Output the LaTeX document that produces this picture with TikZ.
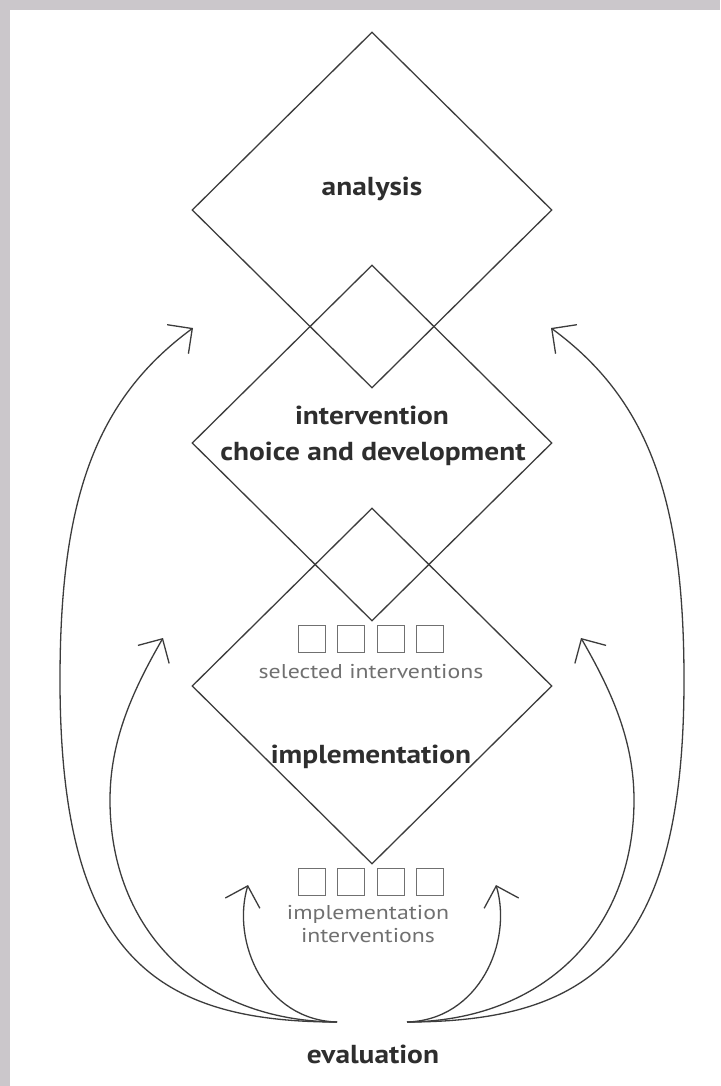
\documentclass[tikz,border=0pt]{standalone}
\usepackage{fontspec}
\setmainfont{PT Sans}
\newfontfamily\lblfont[FakeStretch=1.13]{PT Sans}
\newfontfamily\subfont[FakeStretch=1.19]{PT Sans}
\usetikzlibrary{shapes.geometric,arrows.meta}
\definecolor{linec}{HTML}{3C3C3C}
\definecolor{textc}{HTML}{2E2E2E}
\definecolor{grayc}{HTML}{707070}
\definecolor{borderc}{HTML}{CBC7CB}
\begin{document}
\begin{tikzpicture}[x=1pt,y=-1pt,
  dia/.style={diamond,draw=linec,line width=1.3pt,minimum width=360pt,minimum height=356pt,inner sep=0pt},
  lbl/.style={font=\lblfont\fontsize{26}{30}\selectfont\bfseries,text=textc,inner sep=0pt,anchor=base},
  sub/.style={font=\subfont\fontsize{20}{22}\selectfont,text=grayc,inner sep=0pt,anchor=base},
  sq/.style={draw=grayc,line width=1.8pt,minimum size=27pt,inner sep=0pt},
  arr/.style={draw=linec,line width=1.3pt,-{Straight Barb[length=18pt,width=36pt,line width=1.3pt]}}
]
\useasboundingbox (0,0) rectangle (720,1086);
\fill[white] (0,0) rectangle (720,1086);
\fill[borderc] (0,0) rectangle (10,1086);
\fill[borderc] (0,0) rectangle (720,10);
% diamonds
\node[dia] (analysis) at (372,210) {};
\node[dia] (choice) at (372,443) {};
\node[dia] (impl) at (372,686) {};
% labels
\node[lbl] (tA) at (372,195) {analysis};
\node[lbl] (tC1) at (372,424) {intervention};
\node[lbl] (tC2) at (373,460) {choice and development};
\node[lbl] (tI) at (371,763) {implementation};
\node[lbl] (tE) at (373,1063) {evaluation};
\node[sub] (tS) at (371,678) {selected interventions};
\node[sub] (tII1) at (368,919) {implementation};
\node[sub] (tII2) at (368,942) {interventions};
% squares
\foreach \i/\x in {1/312,2/351,3/391,4/430}{
  \node[sq] (s\i) at (\x,639) {};
  \node[sq] (b\i) at (\x,882) {};
}
% arrows
\coordinate (eL) at (337,1022);
\coordinate (eR) at (407,1022);
\coordinate (tipLo) at (193,328);
\coordinate (tipRo) at (551,328);
\coordinate (tipLm) at (163,638);
\coordinate (tipRm) at (581,638);
\coordinate (tipLi) at (248,885);
\coordinate (tipRi) at (496,885);
\draw[arr] (eL) .. controls (150,1022) and (60,950) .. (60,680) .. controls (60,500) and (95,400) .. (tipLo);
\draw[arr] (eR) .. controls (594,1022) and (684,950) .. (684,680) .. controls (684,500) and (649,400) .. (tipRo);
\draw[arr] (eL) .. controls (200,1021) and (110,930) .. (110,800) .. controls (110,740) and (133,690) .. (tipLm);
\draw[arr] (eR) .. controls (544,1021) and (634,930) .. (634,800) .. controls (634,740) and (611,690) .. (tipRm);
\draw[arr] (eL) .. controls (265,1020) and (231,942) .. (tipLi);
\draw[arr] (eR) .. controls (479,1020) and (513,942) .. (tipRi);
\end{tikzpicture}
\end{document}
